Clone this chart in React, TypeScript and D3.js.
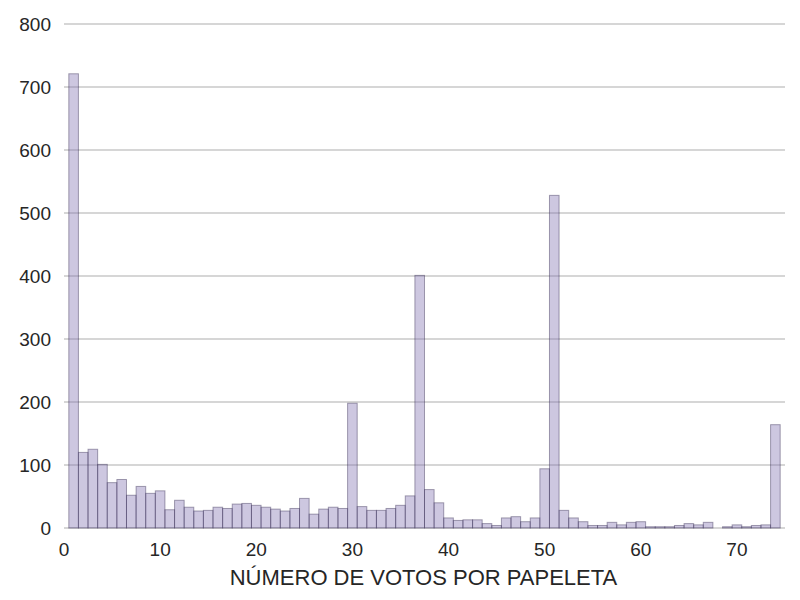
import React from "react";
import * as d3 from "d3";

const voteCounts: number[] = [
  721, 120, 125, 101, 72, 77, 52, 66, 55, 59,
  29, 44, 33, 27, 28, 33, 31, 38, 39, 36,
  33, 30, 27, 31, 47, 22, 30, 33, 31, 198,
  34, 28, 28, 31, 36, 51, 401, 61, 40, 16,
  12, 13, 13, 7, 4, 16, 18, 10, 16, 94,
  528, 28, 16, 10, 4, 4, 9, 5, 9, 10,
  2, 2, 2, 4, 7, 5, 9, 0, 2, 5,
  2, 4, 5, 164,
];
const firstVote = 1;
const xTicks: number[] = [0, 10, 20, 30, 40, 50, 60, 70];
const yTicks: number[] = [0, 100, 200, 300, 400, 500, 600, 700, 800];
const xLabel = "NÚMERO DE VOTOS POR PAPELETA";

const W = 800;
const H = 600;
const margin = { left: 64, right: 15, top: 24, bottom: 72 };

export default function App() {
  const x = d3.scaleLinear().domain([0, 75]).range([margin.left, W - margin.right]);
  const y = d3.scaleLinear().domain([0, 800]).range([H - margin.bottom, margin.top]);
  const font = "'Liberation Sans', Arial, sans-serif";
  const bins = voteCounts.map((c, i) => ({ x0: firstVote + i - 0.5, x1: firstVote + i + 0.5, c }));

  return (
    <svg width={W} height={H} style={{ position: "absolute", left: 0, top: 0, background: "#fff" }}>
      <g>
        {yTicks.map((t) => (
          <line key={t} x1={x(0)} x2={x(75)} y1={y(t)} y2={y(t)} stroke="#c8c8c8" strokeWidth={1.3} />
        ))}
      </g>
      <g>
        {bins.map((b, i) =>
          b.c > 0 ? (
            <rect
              key={i}
              x={x(b.x0)}
              width={x(b.x1) - x(b.x0)}
              y={y(b.c)}
              height={y(0) - y(b.c)}
              fill="rgba(129,114,178,0.4)"
              stroke="rgba(40,30,70,0.4)"
              strokeWidth={1}
            />
          ) : null
        )}
      </g>
      <g fontFamily={font} fontSize={19} fill="#262626">
        {yTicks.map((t) => (
          <text key={t} x={x(0) - 13} y={y(t)} dy="0.35em" textAnchor="end">
            {t}
          </text>
        ))}
        {xTicks.map((t) => (
          <text key={t} x={x(t)} y={y(0) + 21} dy="0.35em" textAnchor="middle">
            {t}
          </text>
        ))}
        <text x={(x(0) + x(75)) / 2 - 1} y={y(0) + 49} dy="0.35em" textAnchor="middle" fontSize={22}>
          {xLabel}
        </text>
      </g>
    </svg>
  );
}
